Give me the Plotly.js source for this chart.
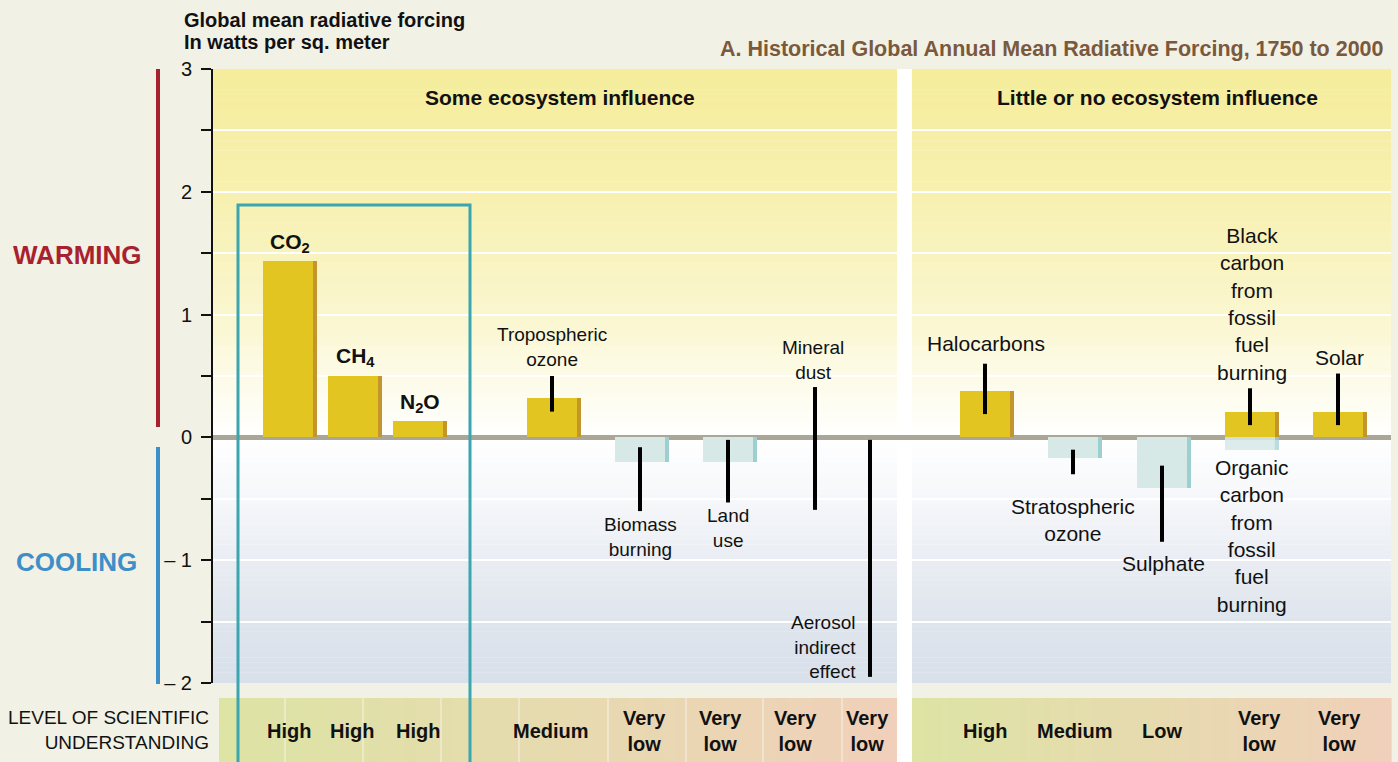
<!DOCTYPE html>
<html>
<head>
<meta charset="utf-8">
<script src="https://cdn.plot.ly/plotly-3.0.1.min.js"></script>
<style>
  html, body { margin: 0; padding: 0; background: #f2f1e6; }
  #chart { width: 1398px; height: 762px; }
</style>
</head>
<body>
<div id="chart"></div>
<script>
// forcing agents, left to right (organic carbon sits under black carbon)
const agents = ['CO2', 'CH4', 'N2O', 'Tropospheric ozone', 'Biomass burning', 'Land use', 'Mineral dust',
	'Aerosol indirect effect', 'Halocarbons', 'Stratospheric ozone', 'Sulphate',
	'Black carbon from fossil fuel burning', 'Organic carbon from fossil fuel burning', 'Solar'];
// W/m2, best estimate (null = no bar, only a range)
const forcing = [1.44, 0.5, 0.13, 0.32, -0.2, -0.2, null, null, 0.38, -0.17, -0.41, 0.21, -0.1, 0.21];
// uncertainty range drawn as black lines
const rangeTop = [null, null, null, 0.5, -0.08, -0.02, 0.41, -0.02, 0.6, -0.1, -0.23, 0.4, null, 0.52];
const rangeBottom = [null, null, null, 0.21, -0.6, -0.53, -0.59, -1.95, 0.19, -0.3, -0.85, 0.1, null, 0.1];
const labelText = ['CO<sub>2</sub>', 'CH<sub>4</sub>', 'N<sub>2</sub>O', 'Tropospheric<br>ozone', 'Biomass<br>burning',
	'Land<br>use', 'Mineral<br>dust', 'Aerosol<br>indirect<br>effect', 'Halocarbons', 'Stratospheric<br>ozone',
	'Sulphate', 'Black<br>carbon<br>from<br>fossil<br>fuel<br>burning', 'Organic<br>carbon<br>from<br>fossil<br>fuel<br>burning', 'Solar'];
// level of scientific understanding, one cell per column
const losu = ['High', 'High', 'High', 'Medium', 'Very<br>low', 'Very<br>low', 'Very<br>low', 'Very<br>low',
	'High', 'Medium', 'Low', 'Very<br>low', 'Very<br>low'];
const panels = ['Some ecosystem influence', 'Little or no ecosystem influence'];
const yTickVals = [-2, -1, 0, 1, 2, 3];
const yTickText = ['\u2013 2', '\u2013 1', '0', '1', '2', '3'];

// ---- layout (pixel frame of the plot area) ----
const L = 213, R = 1391, T = 69, B = 683;
const px = x => (x - L) / (R - L);
const py = y => (B - y) / (B - T);

// x axis is in pixel units so the columns can be placed like the original
const barX = [288, 353, 418, 552, 640, 728, 815, 870, 985, 1073, 1162, 1250, 1250, 1338];
const labelPos = [[290, 243], [355, 357], [420, 403], [552, 347], [640, 537], [728, 528], [813, 360],
	[858, 647], [986, 343], [1073, 520], [1163, 563], [1252, 304], [1252, 536], [1339, 357]];
const losuX = [289, 352, 418, 551, 644, 720, 795, 867, 985, 1075, 1162, 1259, 1339];

const FONT = 'Liberation Sans, Arial, Helvetica, sans-serif';

function isOrganic(i) { return agents[i].startsWith('Organic'); }
let faceColors = forcing.map((v, i) => isOrganic(i) ? 'rgba(214,233,231,0.85)' : (v >= 0 ? '#e2c521' : '#d6e9e7'));
let sideColors = forcing.map((v, i) => isOrganic(i) ? 'rgba(157,207,209,0.7)' : (v >= 0 ? '#c4952c' : '#9dcfd1'));

// range lines
let lineX = [], lineY = [];
for (let i = 0; i < agents.length; i++) {
	if (rangeTop[i] === null) continue;
	lineX.push(barX[i], barX[i], null);
	lineY.push(rangeTop[i], rangeBottom[i], null);
}

let data = [
	{ type: 'bar', x: barX, y: forcing, width: 5, offset: 24, marker: { color: sideColors, line: { width: 0 } }, hoverinfo: 'skip' },
	{ type: 'bar', x: barX, y: forcing, width: 50, offset: -25, marker: { color: faceColors, line: { width: 0 } }, text: agents, hoverinfo: 'text+y', textposition: 'none' },
	{ type: 'scatter', mode: 'lines', x: lineX, y: lineY, line: { color: '#000', width: 4 }, hoverinfo: 'skip', connectgaps: false }
];

// ---- background shapes ----
let shapes = [];
function mix(a, b, t) { return 'rgb(' + a.map((v, k) => Math.round(v + (b[k] - v) * t)).join(',') + ')'; }
const bgStops = [[-2, [216, 224, 234]], [-1.5, [223, 229, 237]], [-1, [233, 237, 243]], [-0.5, [245, 247, 250]],
	[0, [255, 255, 255]], [0.5, [253, 251, 231]], [1, [250, 246, 206]], [2, [247, 240, 175]], [3, [245, 236, 155]]];
for (let s = 0; s < bgStops.length - 1; s++) {
	let [y0, c0] = bgStops[s], [y1, c1] = bgStops[s + 1];
	let n = 12;
	for (let k = 0; k < n; k++) {
		shapes.push({ type: 'rect', layer: 'below', xref: 'paper', yref: 'y', x0: 0, x1: 1,
			y0: y0 + (y1 - y0) * k / n, y1: y0 + (y1 - y0) * (k + 1) / n + 0.002,
			fillcolor: mix(c0, c1, (k + 0.5) / n), line: { width: 0 } });
	}
}
// white gap between the two panels
shapes.push({ type: 'rect', layer: 'below', xref: 'x', yref: 'paper', x0: 897, x1: 912, y0: 0, y1: 1, fillcolor: '#fff', line: { width: 0 } });
shapes.push({ type: 'rect', layer: 'above', xref: 'paper', yref: 'paper', x0: px(897), x1: px(912), y0: py(762), y1: 0, fillcolor: '#fff', line: { width: 0 } });

// level of understanding strip (gradient green -> salmon in each panel)
const stripA = [221, 228, 164], stripB = [240, 208, 186];
for (let [x0, x1] of [[219, 897], [912, 1391]]) {
	let n = Math.round((x1 - x0) / 6);
	for (let k = 0; k < n; k++) {
		shapes.push({ type: 'rect', layer: 'below', xref: 'paper', yref: 'paper',
			x0: px(x0 + (x1 - x0) * k / n), x1: px(x0 + (x1 - x0) * (k + 1) / n + 0.6),
			y0: py(762), y1: py(698), fillcolor: mix(stripA, stripB, (k + 0.5) / n), line: { width: 0 } });
	}
}
for (let sx of [285, 363, 441, 519, 608, 686, 763, 842]) {
	shapes.push({ type: 'line', layer: 'above', xref: 'paper', yref: 'paper', x0: px(sx), x1: px(sx), y0: py(762), y1: py(698),
		line: { color: 'rgba(255,255,255,0.7)', width: 1 } });
}
// warming / cooling bars
shapes.push({ type: 'line', xref: 'paper', yref: 'paper', x0: px(158), x1: px(158), y0: py(69), y1: py(427), line: { color: '#a8212f', width: 4 } });
shapes.push({ type: 'line', xref: 'paper', yref: 'paper', x0: px(158), x1: px(158), y0: py(447), y1: py(684), line: { color: '#3e8ec8', width: 4 } });
// teal frame round the three gases
shapes.push({ type: 'rect', layer: 'above', xref: 'paper', yref: 'paper', x0: px(238), x1: px(470), y0: py(770), y1: py(205),
	line: { color: '#3ba6af', width: 3 }, fillcolor: 'rgba(0,0,0,0)' });

// ---- annotations ----
let annotations = [];
function note(text, x, y, size, opts) {
	annotations.push(Object.assign({ text: text, xref: 'paper', yref: 'paper', x: px(x), y: py(y), showarrow: false,
		xanchor: 'center', yanchor: 'middle', align: 'center', font: { family: FONT, size: size, color: '#111' } }, opts || {}));
}
for (let i = 0; i < agents.length; i++) {
	let [lx, ly] = labelPos[i];
	if (i < 3) note('<b>' + labelText[i] + '</b>', lx, ly, 21);
	else if (i === 7) note(labelText[i], lx, ly, 19, { xanchor: 'right', align: 'right' });
	else note(labelText[i], lx, ly, i < 8 ? 19 : 21);
}
for (let i = 0; i < losu.length; i++) note('<b>' + losu[i] + '</b>', losuX[i], 731, 20);
note('LEVEL OF SCIENTIFIC<br>UNDERSTANDING', 211, 730, 19, { xanchor: 'right', align: 'right' });
note('<b>' + panels[0] + '</b>', 560, 97, 21);
note('<b>' + panels[1] + '</b>', 1157, 97, 21);
note('<b>Global mean radiative forcing</b>', 182, 20, 20, { xanchor: 'left', align: 'left' });
note('<b>In watts per sq. meter</b>', 182, 42, 20, { xanchor: 'left', align: 'left' });
note('<b>A. Historical Global Annual Mean Radiative Forcing, 1750 to 2000</b>', 1386, 49, 21.5,
	{ xanchor: 'right', align: 'right', font: { family: FONT, size: 21.5, color: '#7a593c' } });
note('<b>WARMING</b>', 77, 255, 26, { font: { family: FONT, size: 26, color: '#a8212f' } });
note('<b>COOLING</b>', 76, 562, 26, { font: { family: FONT, size: 26, color: '#3e8ec8' } });

let layout = {
	width: 1398, height: 762,
	margin: { l: L, r: 1398 - R, t: T, b: 762 - B },
	paper_bgcolor: '#f2f1e6', plot_bgcolor: '#ffffff',
	showlegend: false, barmode: 'overlay', bargap: 0,
	font: { family: FONT, size: 20, color: '#111' },
	xaxis: { range: [L, R], visible: false, fixedrange: true },
	yaxis: {
		range: [-2, 3], tickmode: 'array', tickvals: yTickVals, ticktext: yTickText,
		ticks: 'outside', ticklen: 10, tickwidth: 1.5, tickcolor: '#111', ticklabelstandoff: 5,
		minor: { tickmode: 'linear', tick0: -2, dtick: 0.5, ticks: 'outside', ticklen: 10, tickwidth: 1.5, tickcolor: '#111',
			showgrid: true, gridcolor: '#ffffff', gridwidth: 1.5 },
		showline: true, linecolor: '#111', linewidth: 2,
		showgrid: true, gridcolor: '#ffffff', gridwidth: 1.5,
		zeroline: true, zerolinecolor: '#aaa698', zerolinewidth: 5,
		tickfont: { family: FONT, size: 20, color: '#111' }, fixedrange: true
	},
	shapes: shapes,
	annotations: annotations
};

Plotly.newPlot('chart', data, layout, { displayModeBar: false, responsive: false });
</script>
</body>
</html>
